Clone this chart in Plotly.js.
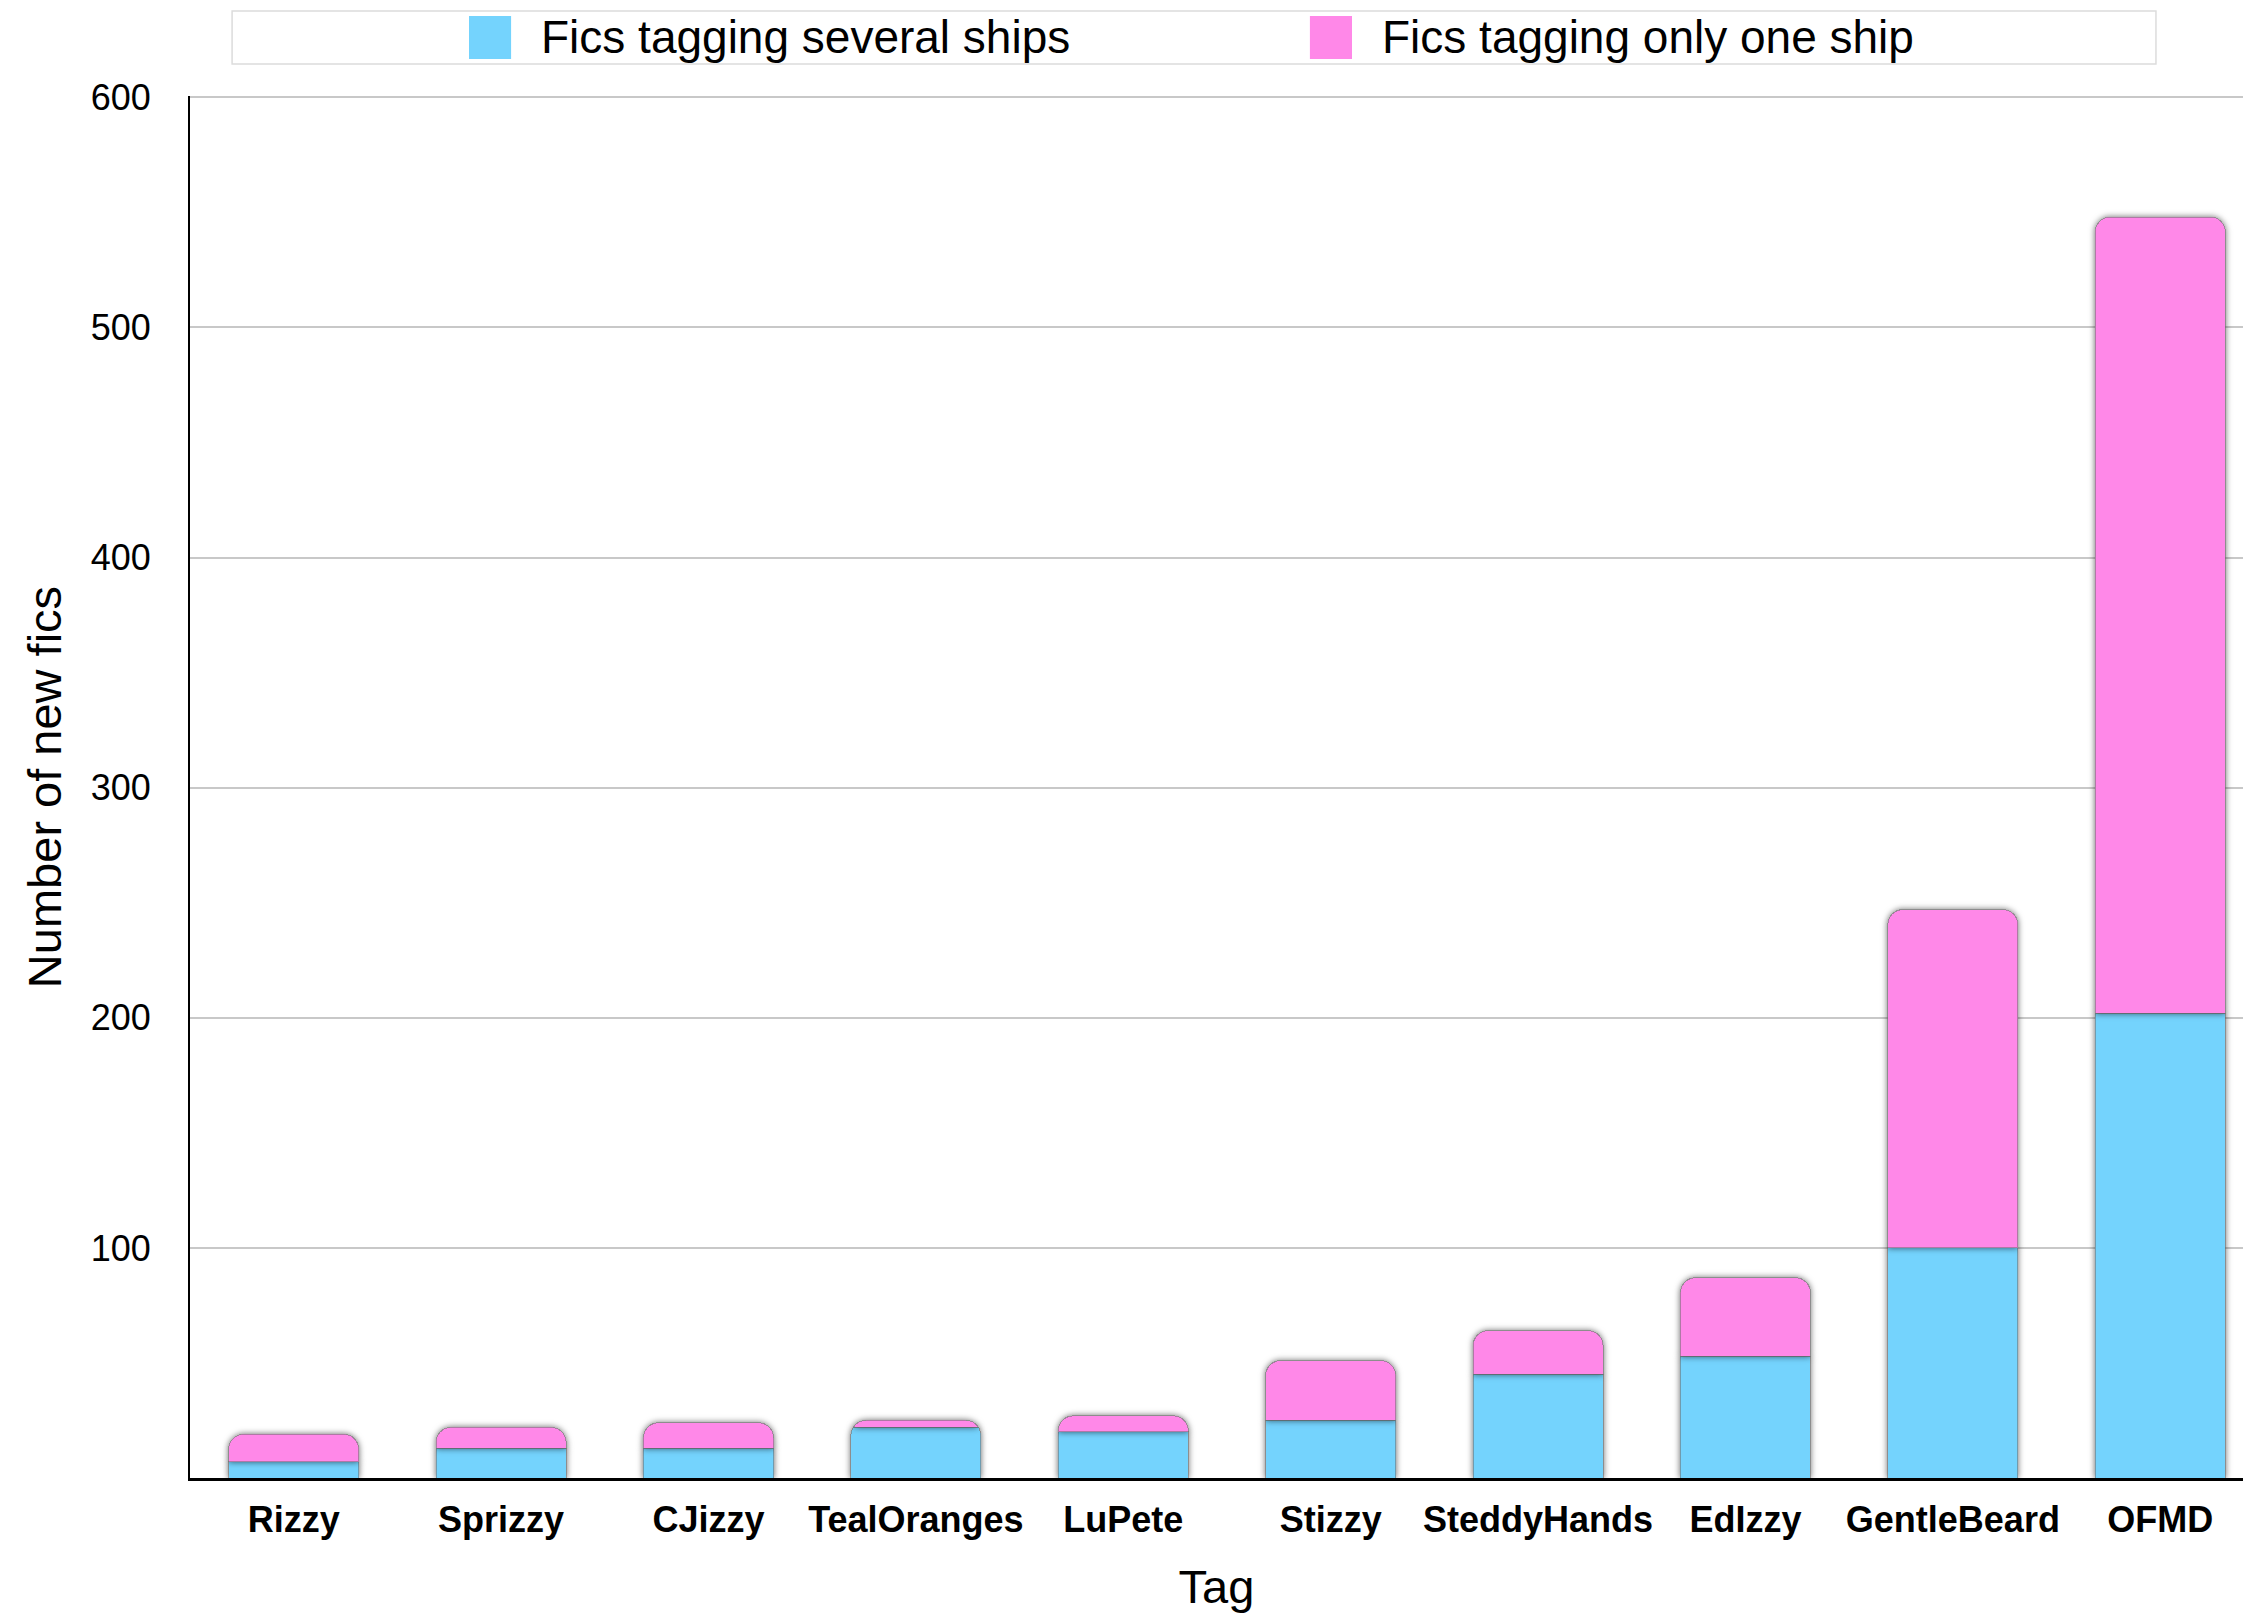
<!DOCTYPE html>
<html>
<head>
<meta charset="utf-8">
<script src="https://cdn.plot.ly/plotly-3.0.1.min.js"></script>
<style>
  html, body { margin: 0; padding: 0; background: #fff; }
  #chart { width: 2243px; height: 1613px; }
  g.bars g.point path { filter: drop-shadow(0px 0px 3px rgba(0,0,0,0.6)); }
</style>
</head>
<body>
<div id="chart"></div>
<script>
// ---- Data ----
const categories = ["Rizzy", "Sprizzy", "CJizzy", "TealOranges", "LuPete", "Stizzy", "SteddyHands", "EdIzzy", "GentleBeard", "OFMD"];
const severalShips = [7, 13, 13, 22, 20, 25, 45, 53, 100, 202];
const oneShip = [12, 9, 11, 3, 7, 26, 19, 34, 147, 346];
const seriesNames = ["Fics tagging several ships", "Fics tagging only one ship"];
const yTickVals = [100, 200, 300, 400, 500, 600];
const yTickText = ["100", "200", "300", "400", "500", "600"];
const xTitle = "Tag";
const yTitle = "Number of new fics";

const blue = "rgb(116,211,253)";
const pink = "rgb(255,136,232)";
const FONT = "Liberation Sans, Helvetica, Arial, sans-serif";

const traces = [
  {
    type: "bar", name: seriesNames[0], x: categories, y: severalShips,
    marker: { color: blue, line: { color: "rgba(110,110,110,0.55)", width: 1 } },
    hoverinfo: "skip"
  },
  {
    type: "bar", name: seriesNames[1], x: categories, y: oneShip,
    marker: { color: pink, line: { color: "rgba(110,110,110,0.55)", width: 1 } },
    hoverinfo: "skip"
  }
];

// custom legend (large swatches like the reference)
const shapes = [
  { type: "rect", xref: "paper", yref: "paper", x0: 0.0205, x1: 0.9576, y0: 1.0232, y1: 1.0615,
    line: { color: "#dcdcdc", width: 1.5 }, fillcolor: "rgba(0,0,0,0)", layer: "above" },
  { type: "rect", xref: "paper", yref: "paper", x0: 0.1359, x1: 0.1564, y0: 1.0268, y1: 1.0579,
    line: { width: 0 }, fillcolor: blue },
  { type: "rect", xref: "paper", yref: "paper", x0: 0.5455, x1: 0.5660, y0: 1.0268, y1: 1.0579,
    line: { width: 0 }, fillcolor: pink }
];
const annotations = [
  { xref: "paper", yref: "paper", x: 0.170, y: 1.0425, xanchor: "left", yanchor: "middle",
    text: seriesNames[0], showarrow: false, font: { family: FONT, size: 46, color: "#000" } },
  { xref: "paper", yref: "paper", x: 0.5796, y: 1.0425, xanchor: "left", yanchor: "middle",
    text: seriesNames[1], showarrow: false, font: { family: FONT, size: 46, color: "#000" } }
];

const layout = {
  width: 2243, height: 1613,
  margin: { l: 190, r: 0, t: 96, b: 135 },
  paper_bgcolor: "#fff", plot_bgcolor: "#fff",
  barmode: "stack",
  bargap: 0.373,
  barcornerradius: 15,
  showlegend: false,
  font: { family: FONT, color: "#000" },
  xaxis: {
    type: "category",
    range: [-0.5, 9.399],
    showline: true, linecolor: "#000", linewidth: 3,
    showgrid: false, ticks: "", ticklabelstandoff: 8,
    tickfont: { family: FONT, size: 36, color: "#000", weight: "bold" },
    title: { text: xTitle, font: { family: FONT, size: 47, color: "#000" }, standoff: 32 },
    fixedrange: true
  },
  yaxis: {
    range: [0, 600.6],
    tickvals: yTickVals, ticktext: yTickText,
    showline: true, linecolor: "#000", linewidth: 2,
    showgrid: true, gridcolor: "#c8c8c8", gridwidth: 2,
    zeroline: false, ticks: "", ticklabelstandoff: 30,
    tickfont: { family: FONT, size: 36, color: "#000" },
    title: { text: yTitle, font: { family: FONT, size: 47, color: "#000" }, standoff: 14 },
    fixedrange: true
  },
  shapes: shapes,
  annotations: annotations
};

Plotly.newPlot("chart", traces, layout, { displayModeBar: false, staticPlot: true });
</script>
</body>
</html>
